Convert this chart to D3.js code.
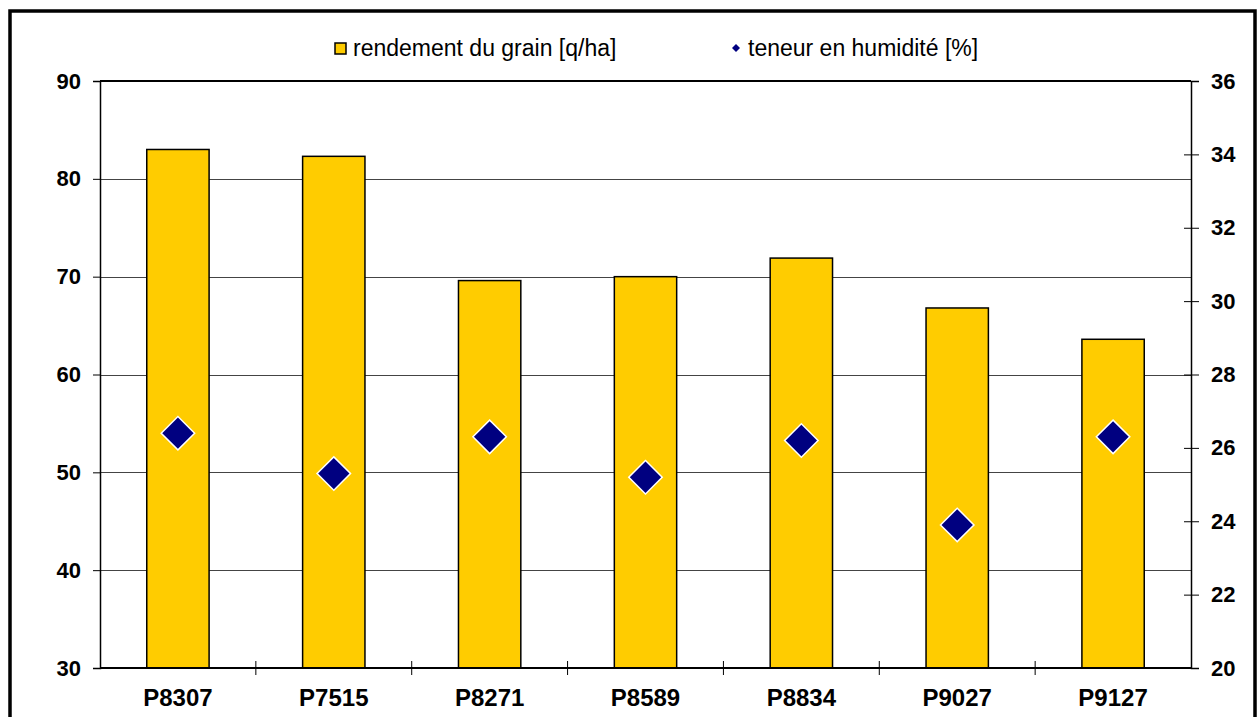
<!DOCTYPE html>
<html>
<head>
<meta charset="utf-8">
<script src="https://cdn.jsdelivr.net/npm/d3@7"></script>
<style>
  body { margin: 0; background: #fff; }
  text { font-family: Arial, "Liberation Sans", sans-serif; }
</style>
</head>
<body>
<script>
const hybrides = ["P8307", "P7515", "P8271", "P8589", "P8834", "P9027", "P9127"];
const rendement = [83.0, 82.3, 69.6, 70.0, 71.9, 66.8, 63.6];
const humidite = [26.4, 25.3, 26.3, 25.2, 26.2, 23.9, 26.3];
const leftTicks = [30, 40, 50, 60, 70, 80, 90];
const rightTicks = [20, 22, 24, 26, 28, 30, 32, 34, 36];
const legendLabels = ["rendement du grain [q/ha]", "teneur en humidité [%]"];

const W = 1258, H = 717;
const margin = {top: 81, right: 67, bottom: 49, left: 100};

const svg = d3.select("body").append("svg")
  .attr("width", W)
  .attr("height", H);

// outer frame
svg.append("rect")
  .attr("x", 10).attr("y", 11)
  .attr("width", 1245).attr("height", 740)
  .attr("fill", "none")
  .attr("stroke", "#000")
  .attr("stroke-width", 3.5);

var x = d3.scaleBand()
  .domain(hybrides)
  .range([margin.left, W - margin.right])
  .paddingInner(0.6)
  .paddingOuter(0.3);

var xOuter = d3.scaleBand()
  .domain(hybrides)
  .range([margin.left, W - margin.right]);

var yL = d3.scaleLinear()
  .domain([30, 90])
  .range([H - margin.bottom, margin.top]);

var yR = d3.scaleLinear()
  .domain([20, 36])
  .range([H - margin.bottom, margin.top]);

// gridlines
svg.append("g")
  .selectAll("line")
  .data(leftTicks.slice(1, -1))
  .join("line")
    .attr("x1", margin.left)
    .attr("x2", W - margin.right)
    .attr("y1", d => Math.round(yL(d)) + 0.5)
    .attr("y2", d => Math.round(yL(d)) + 0.5)
    .attr("stroke", "#444")
    .attr("stroke-width", 1);

// top border of plot area
svg.append("line")
  .attr("x1", margin.left).attr("x2", W - margin.right)
  .attr("y1", margin.top).attr("y2", margin.top)
  .attr("stroke", "#000").attr("stroke-width", 2);

// bars
svg.append("g")
  .selectAll("rect")
  .data(hybrides)
  .join("rect")
    .attr("x", d => x(d))
    .attr("width", x.bandwidth())
    .attr("y", (d, i) => yL(rendement[i]))
    .attr("height", (d, i) => yL(30) - yL(rendement[i]))
    .attr("fill", "#FFCC00")
    .attr("stroke", "#000")
    .attr("stroke-width", 1.5);

// left axis
var yAxisL = g => g
  .attr("transform", `translate(${margin.left},0)`)
  .call(d3.axisLeft(yL).tickValues(leftTicks).tickSize(7).tickPadding(12))
  .call(g => g.select(".domain").attr("stroke-width", 1.5))
  .call(g => g.selectAll(".tick line").attr("stroke-width", 1))
  .call(g => g.selectAll(".tick text")
      .style("font-size", "22px").style("font-weight", "bold").attr("fill", "#000"));

svg.append("g").call(yAxisL);

// right axis (cross ticks)
var yAxisR = g => g
  .attr("transform", `translate(${W - margin.right},0)`)
  .call(d3.axisRight(yR).tickValues(rightTicks).tickSize(8).tickPadding(12))
  .call(g => g.select(".domain").attr("stroke-width", 1.5))
  .call(g => g.selectAll(".tick line").attr("x1", -7).attr("stroke-width", 1))
  .call(g => g.selectAll(".tick text")
      .style("font-size", "22px").style("font-weight", "bold").attr("fill", "#000"));

svg.append("g").call(yAxisR);

// bottom axis
svg.append("g")
  .attr("transform", `translate(0,${H - margin.bottom})`)
  .call(g => g.append("line")
      .attr("x1", margin.left).attr("x2", W - margin.right)
      .attr("stroke", "#000").attr("stroke-width", 2))
  .call(g => g.selectAll(".sep")
      .data(hybrides.slice(1))
      .join("line")
        .attr("class", "sep")
        .attr("x1", d => xOuter(d)).attr("x2", d => xOuter(d))
        .attr("y1", -7).attr("y2", 7)
        .attr("stroke", "#000").attr("stroke-width", 1))
  .call(g => g.selectAll(".lab")
      .data(hybrides)
      .join("text")
        .attr("class", "lab")
        .attr("x", d => xOuter(d) + xOuter.bandwidth() / 2)
        .attr("y", 38)
        .attr("text-anchor", "middle")
        .style("font-size", "24px")
        .style("font-weight", "bold")
        .text(d => d));

// diamonds
var diamond = d3.symbol(d3.symbolSquare, 560);
svg.append("g")
  .selectAll("path")
  .data(hybrides)
  .join("path")
    .attr("d", diamond)
    .attr("transform", (d, i) => `translate(${xOuter(d) + xOuter.bandwidth() / 2},${yR(humidite[i])}) rotate(45)`)
    .attr("fill", "#000080")
    .attr("stroke", "#fff")
    .attr("stroke-width", 1.5);

// legend
const legend = svg.append("g");
legend.append("rect")
  .attr("x", 335).attr("y", 43)
  .attr("width", 11).attr("height", 11)
  .attr("fill", "#FFCC00")
  .attr("stroke", "#000")
  .attr("stroke-width", 1.5);
legend.append("text")
  .attr("x", 353).attr("y", 56)
  .style("font-size", "23px")
  .text(legendLabels[0]);
legend.append("path")
  .attr("d", d3.symbol(d3.symbolSquare, 32))
  .attr("transform", "translate(736,48) rotate(45)")
  .attr("fill", "#000080");
legend.append("text")
  .attr("x", 748).attr("y", 56)
  .style("font-size", "23px")
  .text(legendLabels[1]);
</script>
</body>
</html>
